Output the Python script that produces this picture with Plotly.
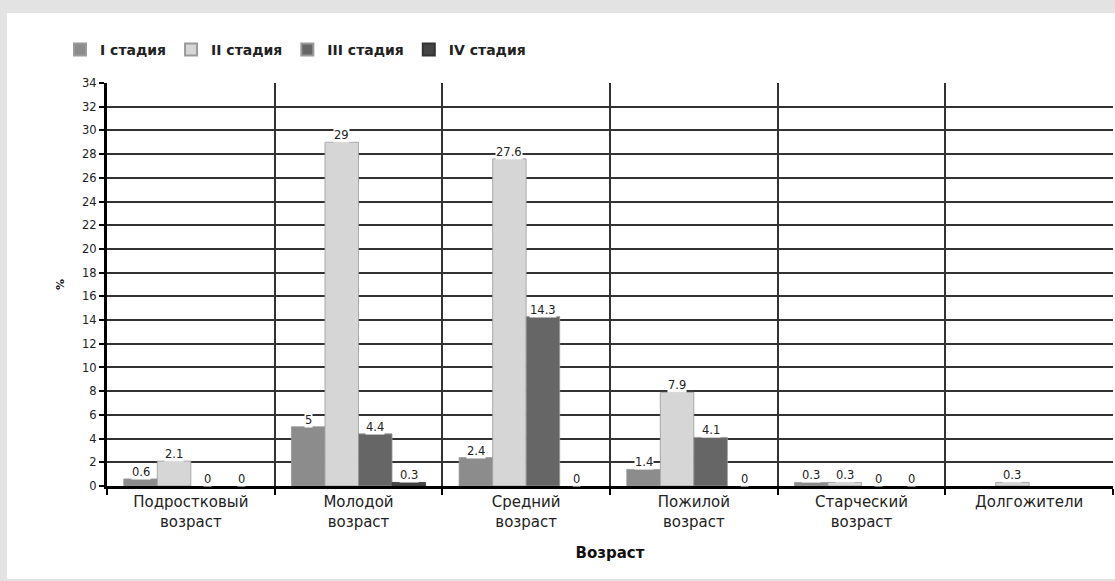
import plotly.graph_objects as go

categories = ["Подростковый<br>возраст", "Молодой<br>возраст", "Средний<br>возраст",
              "Пожилой<br>возраст", "Старческий<br>возраст", "Долгожители"]
series_names = ["I стадия", "II стадия", "III стадия", "IV стадия"]
stage1 = [0.6, 5, 2.4, 1.4, 0.3, None]
stage2 = [2.1, 29, 27.6, 7.9, 0.3, 0.3]
stage3 = [0, 4.4, 14.3, 4.1, 0, None]
stage4 = [0, 0.3, 0, 0, 0, None]
series_values = [stage1, stage2, stage3, stage4]
colors = ["#8c8c8c", "#d6d6d6", "#666666", "#454545"]
y_ticks = list(range(0, 35, 2))

W, H = 1115, 581
ml, mr, mt, mb = 107, 2, 83, 95
pw = W - ml - mr
ph = H - mt - mb

fig = go.Figure()
for name, vals, col in zip(series_names, series_values, colors):
    fig.add_trace(go.Bar(
        x=categories, y=vals, name=name,
        marker=dict(color=col, line=dict(
            color="#9a9a9a" if col != "#454545" else "#333333",
            width=[0.8 if v else 0 for v in vals])),
    ))

# data labels with white background
ncat = len(categories)
bargap = 0.2
bw = pw / ncat * (1 - bargap) / 4
annotations = []
for i, vals in enumerate(series_values):
    off = (i - 1.5) * bw
    for c, v in zip(categories, vals):
        if v is None:
            continue
        annotations.append(dict(
            x=c, y=v, xref="x", yref="y", text=f"{v:g}", showarrow=False,
            xshift=off, yshift=7, yanchor="middle", bgcolor="white", borderpad=0,
            font=dict(family="DejaVu Sans", size=11.5, color="#222"),
        ))

def px_x(p):
    return (p - ml) / pw

def px_y(p):
    return (H - mb - p) / ph

fig.update_layout(
    width=W, height=H,
    margin=dict(l=ml, r=mr, t=mt, b=mb, pad=0),
    paper_bgcolor="#e3e3e3",
    plot_bgcolor="white",
    barmode="group", bargap=bargap, bargroupgap=0,
    font=dict(family="DejaVu Sans", color="#222"),
    showlegend=True,
    legend=dict(orientation="h", x=px_x(60), y=px_y(50), xanchor="left", yanchor="middle",
                font=dict(family="DejaVu Sans", size=14, color="#222", weight="bold"),
                itemwidth=30, tracegroupgap=0, bgcolor="rgba(0,0,0,0)", itemsizing="constant"),
    shapes=[dict(type="rect", xref="paper", yref="paper",
                 x0=px_x(7), x1=px_x(W + 5), y0=px_y(H - 2), y1=px_y(13),
                 fillcolor="white", line=dict(width=0), layer="below")],
    annotations=annotations,
    xaxis=dict(
        type="category", tickson="boundaries", showgrid=True, gridcolor="#333", gridwidth=1.5,
        showline=True, linecolor="black", linewidth=3,
        ticks="outside", ticklen=6, tickcolor="black", tickwidth=1.5,
        tickfont=dict(family="DejaVu Sans", size=15, color="#222"),
        title=dict(text="<b>Возраст</b>", font=dict(family="DejaVu Sans", size=15, color="#111"), standoff=18),
        range=[-0.5, ncat - 0.5],
    ),
    yaxis=dict(
        range=[0, 34], tickvals=y_ticks, showgrid=True, gridcolor="#333", gridwidth=1.5,
        showline=True, linecolor="black", linewidth=3, zeroline=False,
        ticks="outside", ticklen=5, tickcolor="black", tickwidth=1.5,
        tickfont=dict(family="DejaVu Sans", size=11.5, color="#222"),
        title=dict(text="<b>%</b>", font=dict(family="DejaVu Sans", size=11, color="#111"), standoff=16),
    ),
)

fig.write_html("out.html", config={"displayModeBar": False},
               post_script="document.body.style.margin='0';")
